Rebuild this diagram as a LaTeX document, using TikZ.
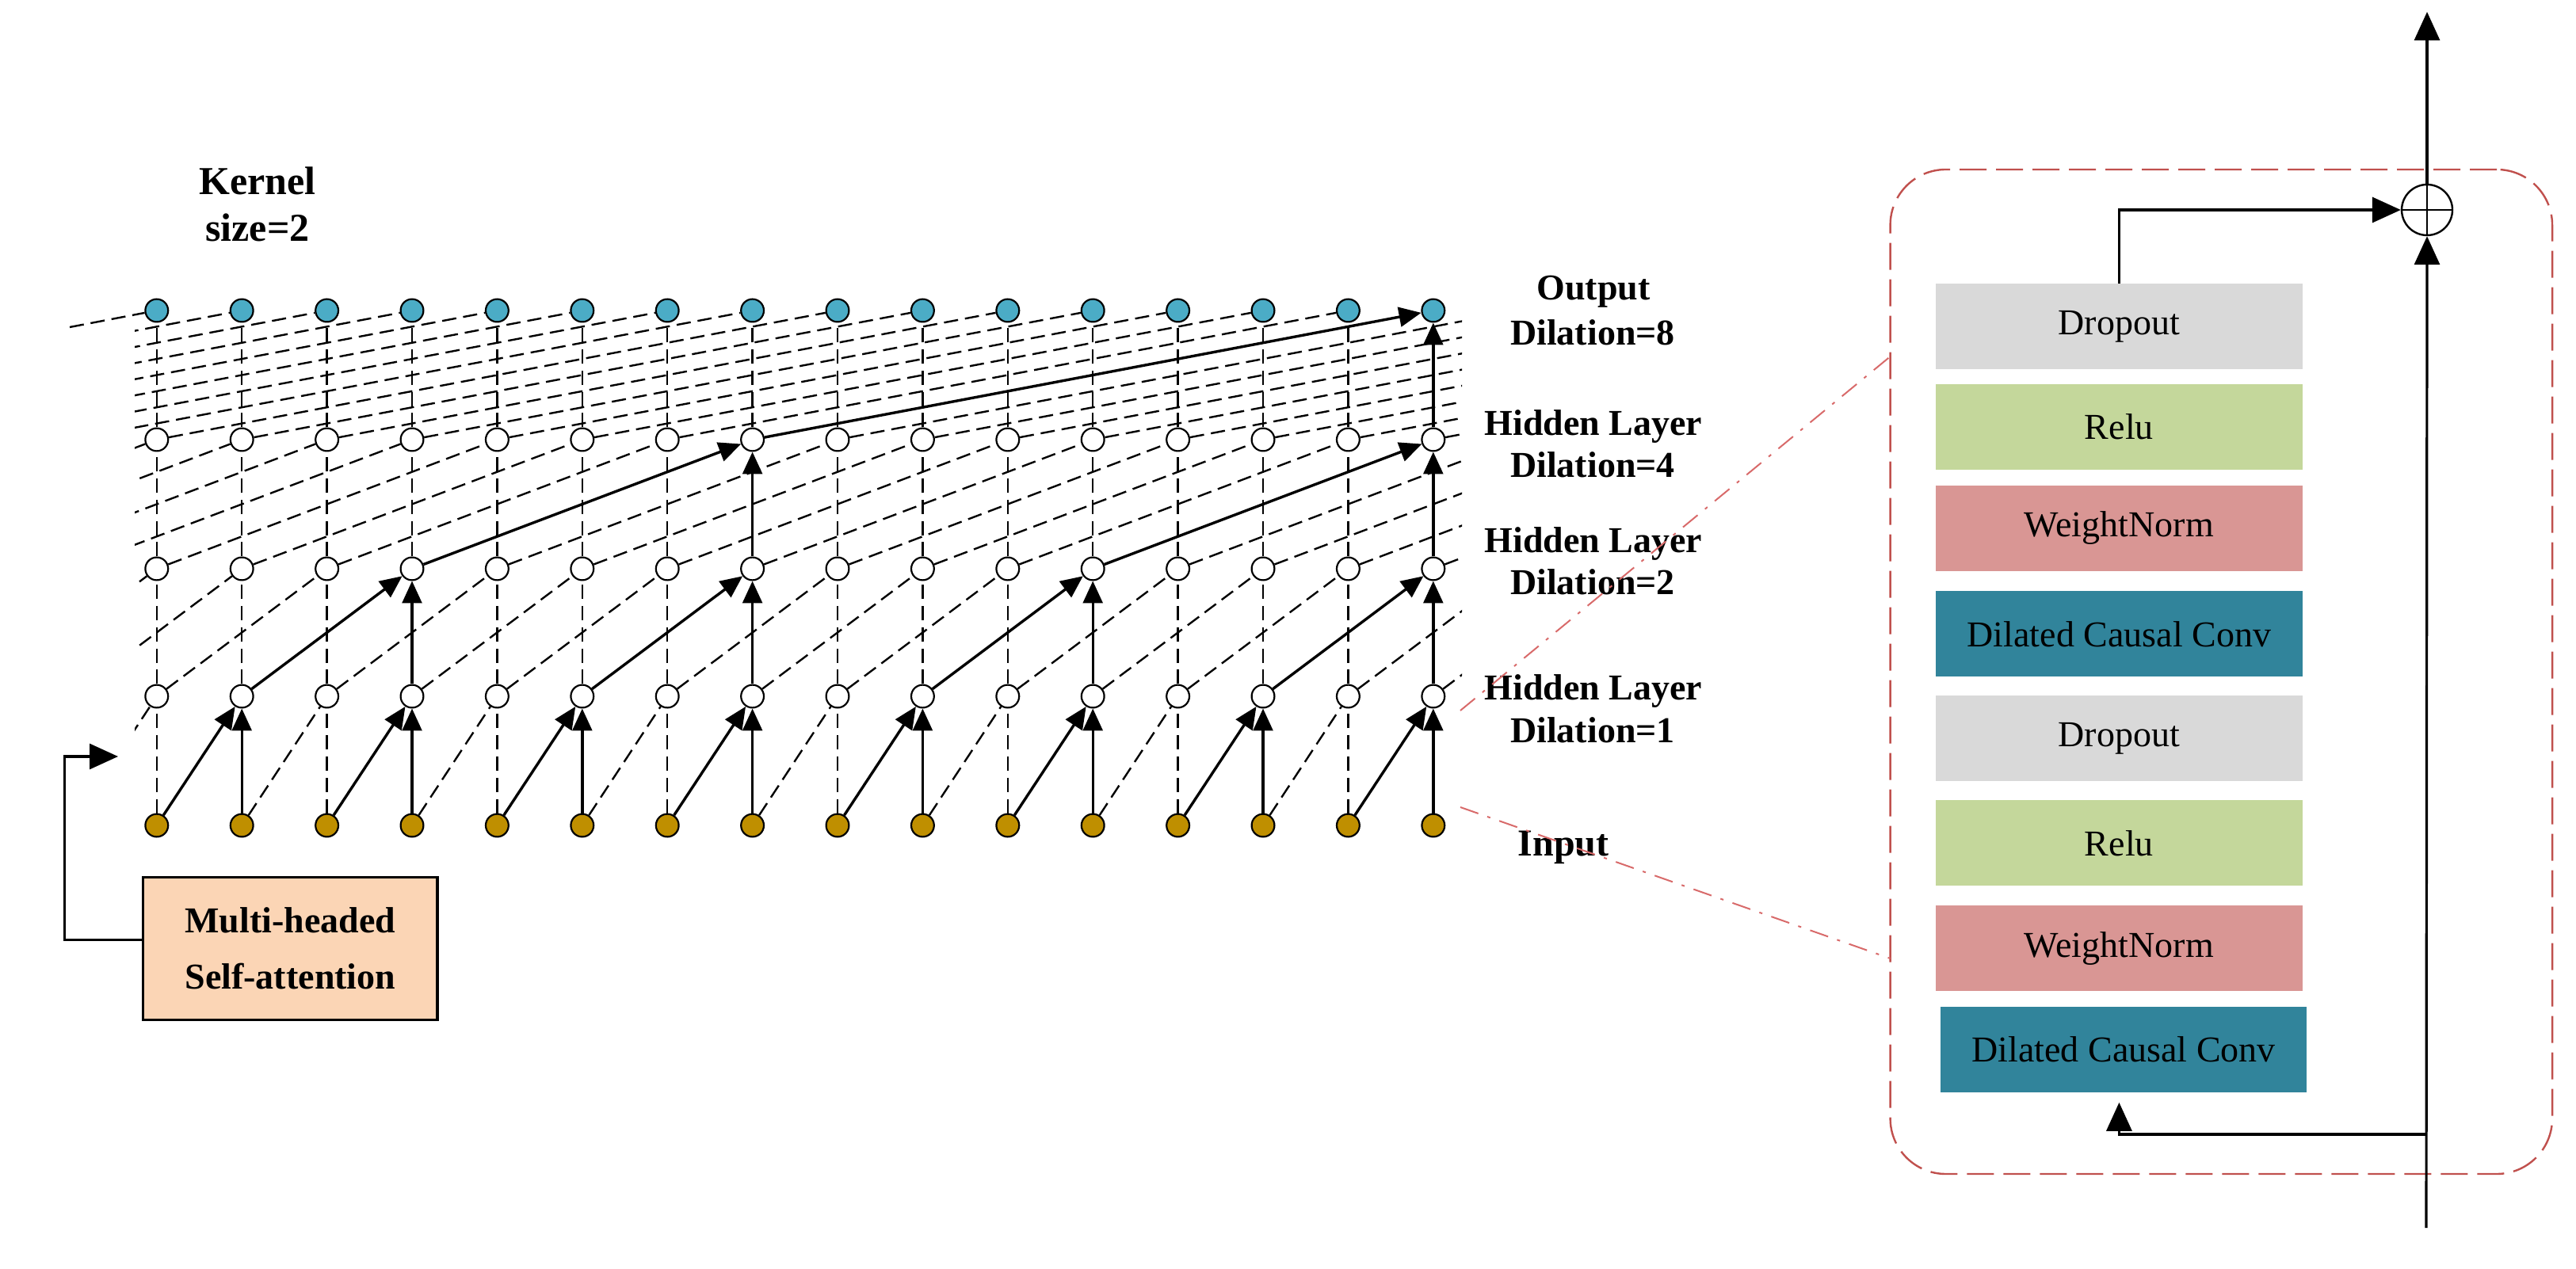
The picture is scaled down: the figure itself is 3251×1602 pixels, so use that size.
\documentclass[tikz,border=0pt]{standalone}
\usepackage{fontspec}
\setmainfont{Liberation Serif}
\usetikzlibrary{arrows.meta}
\definecolor{teal1}{HTML}{4BACC6}
\definecolor{gold1}{HTML}{BF8F00}
\definecolor{dropc}{HTML}{D9D9D9}
\definecolor{reluc}{HTML}{C4D79B}
\definecolor{wnc}{HTML}{D99694}
\definecolor{dccc}{HTML}{31849B}
\definecolor{peach}{HTML}{FBD5B5}
\definecolor{redd}{HTML}{C0504D}
\definecolor{redl}{HTML}{D86A6A}
\begin{document}
\begin{tikzpicture}[x=0.25pt,y=-0.25pt,
  nd/.style={circle,draw=black,line width=0.55pt,minimum size=7.2pt,inner sep=0pt},
  inp/.style={nd,fill=gold1},
  hid/.style={nd,fill=white},
  outp/.style={nd,fill=teal1},
  dsh/.style={line width=0.6pt,dash pattern=on 4.5pt off 2.2pt},
  arr/.style={line width=0.85pt,-{Triangle[length=7pt,width=6.2pt]}},
  barr/.style={line width=0.8pt,-{Triangle[length=9pt,width=8pt]}},
  lbl/.style={font=\fontsize{11.5}{13}\selectfont\bfseries,anchor=base},
  klbl/.style={font=\fontsize{12.5}{14}\selectfont\bfseries,anchor=base},
  blk/.style={minimum width=115.65pt,minimum height=27pt,inner sep=0pt,font=\fontsize{11.5}{13}\selectfont},
]
\useasboundingbox (0,0) rectangle (3251,1602);

% ---- grid positions (off-grid coordinates) ----
\foreach \l/\yy in {0/1042,1/879,2/718,3/555,4/392}{
  \foreach \j in {0,...,7}{\coordinate (n\l-\j) at ({197.8+107.4*(\j-8)},\yy);}
  \foreach \j in {24,...,31}{\coordinate (n\l-\j) at ({197.8+107.4*(\j-8)},\yy);}
}
% ---- nodes ----
\foreach \j in {8,...,23}{
  \node[inp]  (n0-\j) at ({197.8+107.4*(\j-8)},1042) {};
  \node[hid]  (n1-\j) at ({197.8+107.4*(\j-8)},879) {};
  \node[hid]  (n2-\j) at ({197.8+107.4*(\j-8)},718) {};
  \node[hid]  (n3-\j) at ({197.8+107.4*(\j-8)},555) {};
  \node[outp] (n4-\j) at ({197.8+107.4*(\j-8)},392) {};
}

% ---- dashed connections ----
\begin{scope}
\clip (170,300) rectangle (1845,1100);
\foreach \j in {8,10,...,22} \draw[dsh] (n0-\j) -- (n1-\j);
\foreach \j in {8,9,10,12,13,14,16,17,18,20,21,22} \draw[dsh] (n1-\j) -- (n2-\j);
\foreach \j in {8,...,14} \draw[dsh] (n2-\j) -- (n3-\j);
\foreach \j in {16,...,22} \draw[dsh] (n2-\j) -- (n3-\j);
\foreach \j in {8,...,22} \draw[dsh] (n3-\j) -- (n4-\j);
\foreach \j [evaluate=\j as \tg using int(\j+1)] in {7,9,...,21} \draw[dsh] (n0-\j) -- (n1-\tg);
\foreach \j [evaluate=\j as \tg using int(\j+2)] in {6,7,8,10,11,12,14,15,16,18,19,20,22,23} \draw[dsh] (n1-\j) -- (n2-\tg);
\foreach \j [evaluate=\j as \tg using int(\j+4)] in {4,...,10} \draw[dsh] (n2-\j) -- (n3-\tg);
\foreach \j [evaluate=\j as \tg using int(\j+4)] in {12,...,18} \draw[dsh] (n2-\j) -- (n3-\tg);
\foreach \j [evaluate=\j as \tg using int(\j+4)] in {20,...,23} \draw[dsh] (n2-\j) -- (n3-\tg);
\foreach \j [evaluate=\j as \tg using int(\j+8)] in {1,...,14} \draw[dsh] (n3-\j) -- (n4-\tg);
\foreach \j [evaluate=\j as \tg using int(\j+8)] in {16,...,23} \draw[dsh] (n3-\j) -- (n4-\tg);
\end{scope}
\coordinate (lft) at (88,413);
\draw[dsh] (lft) -- (n4-8);

% ---- solid arrows ----
\foreach \j in {9,11,...,23} \draw[arr] (n0-\j) -- (n1-\j);
\foreach \j [evaluate=\j as \tg using int(\j+1)] in {8,10,...,22} \draw[arr] (n0-\j) -- (n1-\tg);
\foreach \j in {11,15,19,23} \draw[arr] (n1-\j) -- (n2-\j);
\foreach \j [evaluate=\j as \tg using int(\j+2)] in {9,13,17,21} \draw[arr] (n1-\j) -- (n2-\tg);
\foreach \j in {15,23} \draw[arr] (n2-\j) -- (n3-\j);
\foreach \j [evaluate=\j as \tg using int(\j+4)] in {11,19} \draw[arr] (n2-\j) -- (n3-\tg);
\draw[arr] (n3-23) -- (n4-23);
\draw[arr] (n3-15) -- (n4-23);

% ---- labels ----
\node[klbl] (kn1) at (325,246) {Kernel};
\node[klbl] (kn2) at (325,305) {size=2};
\node[lbl] (lo1) at (2011,379) {Output};
\node[lbl] (lo2) at (2010,436) {Dilation=8};
\node[lbl] (l41) at (2011,550) {Hidden Layer};
\node[lbl] (l42) at (2010,603) {Dilation=4};
\node[lbl] (l21) at (2011,698) {Hidden Layer};
\node[lbl] (l22) at (2010,751) {Dilation=2};
\node[lbl] (l11) at (2011,884) {Hidden Layer};
\node[lbl] (l12) at (2010,937) {Dilation=1};
\node[klbl,font=\fontsize{12}{14}\selectfont\bfseries] (lin) at (1973,1080) {Input};

% ---- multi-headed self-attention ----
\node[draw,line width=0.8pt,fill=peach,minimum width=92.8pt,minimum height=45pt,inner sep=0pt,
      align=center,font=\fontsize{11.5}{17.75}\selectfont\bfseries] (msa) at (366.4,1197.2) {Multi-headed\\Self-attention};
\coordinate (atip) at (149,955);
\draw[barr] ([yshift=2.6pt]msa.west) -- ++(-97.8,0) |- (atip);

% ---- residual block ----
\node[draw=redd,line width=0.6pt,dash pattern=on 8.5pt off 3pt,rounded corners=17.5pt,
      minimum width=208.85pt,minimum height=317pt,inner sep=0pt] (tblk) at (2803.3,848) {};
\coordinate (rA1) at (1843,897);
\coordinate (rA2) at (2385.6,450);
\coordinate (rB1) at (1843,1019);
\coordinate (rB2) at (2385.6,1210);
\draw[redl,line width=0.5pt,dash pattern=on 6pt off 3pt on 1pt off 3pt] (rA1) -- (rA2);
\draw[redl,line width=0.5pt,dash pattern=on 6pt off 3pt on 1pt off 3pt] (rB1) -- (rB2);

\node[blk,fill=dropc] (dropA) at (2674.3,412.5) {Dropout};
\node[blk,fill=reluc] (reluA) at (2674.3,539) {Relu};
\node[blk,fill=wnc]   (wnA)   at (2674.3,667) {WeightNorm};
\node[blk,fill=dccc]  (dccA)  at (2674.3,800.5) {Dilated Causal Conv};
\node[blk,fill=dropc] (dropB) at (2674.3,932.3) {Dropout};
\node[blk,fill=reluc] (reluB) at (2674.3,1064.4) {Relu};
\node[blk,fill=wnc]   (wnB)   at (2674.3,1197.2) {WeightNorm};
\node[blk,fill=dccc]  (dccB)  at (2680,1325) {Dilated Causal Conv};

\node[circle,draw,line width=0.6pt,minimum size=16pt,inner sep=0pt] (add) at (3063,265) {};
\draw[line width=0.6pt] (add.west) -- (add.east) (add.north) -- (add.south);
\coordinate (vb) at (3062,1550);
\coordinate (vt) at (3063,15);
\coordinate (br) at (3062,1432);
\draw[barr] (vb) -- (add.south);
\draw[barr] (add.north) -- (vt);
\draw[barr] (dropA.north) |- (add.west);
\draw[barr] (br) -| ([xshift=-1.4pt,yshift=-3pt]dccB.south);
\end{tikzpicture}
\end{document}
